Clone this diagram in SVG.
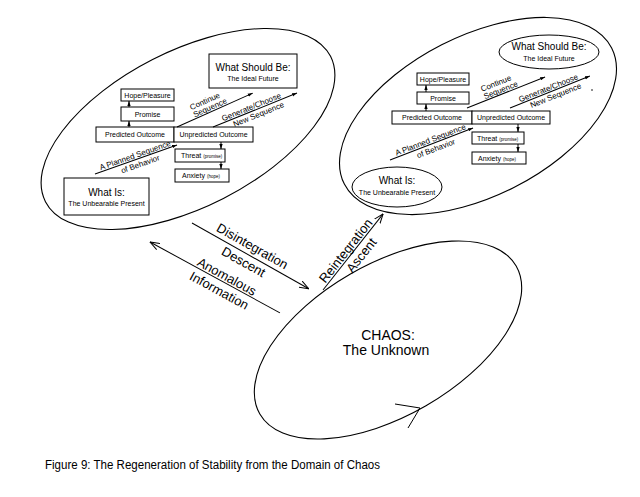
<svg xmlns="http://www.w3.org/2000/svg" width="640" height="497" viewBox="0 0 640 497">
<defs>
<style>
.t{font-family:"Liberation Sans",Arial,sans-serif;fill:#000}
.bx{fill:#fff;stroke:#000;stroke-width:1}
.ln{fill:none;stroke:#000;stroke-width:1}
.el{fill:none;stroke:#000;stroke-width:1.1}
.s7{font-size:7px}
.s45{font-size:4.5px}
.s8{font-size:8px}
.s10{font-size:10px}
.s13{font-size:13px}
.s14{font-size:14px}
</style>
<marker id="ah" viewBox="0 0 10 8" refX="9.5" refY="4" markerWidth="10" markerHeight="8" markerUnits="userSpaceOnUse" orient="auto"><path d="M0,0.5 L9.5,4 L0,7.5" fill="none" stroke="#000" stroke-width="1"/></marker>
<marker id="sa" viewBox="0 0 6 4" refX="6" refY="2" markerWidth="5" markerHeight="4" markerUnits="userSpaceOnUse" orient="auto"><path d="M0,0 L6,2 L0,4 Z" fill="#000"/></marker>
</defs>
<rect width="640" height="497" fill="#fff"/>

<!-- Left cluster: stability -->
<g id="left-domain">
<ellipse class="el" cx="188" cy="129" rx="160" ry="78" transform="rotate(-27 188 129)"/>
</g>
<g id="left-what-should-be">
<rect class="bx" x="209" y="54" width="88" height="34"/>
<text class="t s10" x="253" y="70.5" text-anchor="middle">What Should Be:</text>
<text class="t s7" x="253" y="80.5" text-anchor="middle">The Ideal Future</text>
</g>
<g id="left-hope">
<rect class="bx" x="121" y="89" width="53" height="12"/>
<text class="t s7" x="147.5" y="97.5" text-anchor="middle">Hope/Pleasure</text>
</g>
<g id="left-promise">
<rect class="bx" x="121" y="107" width="53" height="14"/>
<text class="t s7" x="147.5" y="116.5" text-anchor="middle">Promise</text>
</g>
<g id="left-predicted">
<rect class="bx" x="96" y="127" width="78" height="15"/>
<text class="t s7" x="135" y="137" text-anchor="middle">Predicted Outcome</text>
</g>
<g id="left-unpredicted">
<rect class="bx" x="174" y="127" width="79" height="15"/>
<text class="t s7" x="213.5" y="137" text-anchor="middle">Unpredicted Outcome</text>
</g>
<g id="left-threat">
<rect class="bx" x="175" y="149" width="50" height="13"/>
<text class="t s7" x="181" y="158">Threat <tspan class="s45">(promise)</tspan></text>
</g>
<g id="left-anxiety">
<rect class="bx" x="175" y="169" width="54" height="13"/>
<text class="t s7" x="182" y="178">Anxiety <tspan class="s45">(hope)</tspan></text>
</g>
<g id="left-what-is">
<rect class="bx" x="64" y="178" width="85" height="37"/>
<text class="t s10" x="106.5" y="196" text-anchor="middle">What Is:</text>
<text class="t s7" x="106.5" y="206" text-anchor="middle">The Unbearable Present</text>
</g>

<!-- Right cluster: restored stability -->
<g id="right-domain">
<ellipse class="el" cx="478" cy="116" rx="150" ry="80" transform="rotate(-27 478 116)"/>
<circle cx="592" cy="90" r="0.8" fill="#000"/>
</g>
<g id="right-what-should-be">
<ellipse class="bx" cx="549" cy="52" rx="50" ry="17"/>
<text class="t s10" x="549" y="50" text-anchor="middle">What Should Be:</text>
<text class="t s7" x="549" y="61" text-anchor="middle">The Ideal Future</text>
</g>
<g id="right-hope">
<rect class="bx" x="417" y="73" width="52" height="12"/>
<text class="t s7" x="443" y="81.5" text-anchor="middle">Hope/Pleasure</text>
</g>
<g id="right-promise">
<rect class="bx" x="417" y="92" width="52" height="12"/>
<text class="t s7" x="443" y="100.5" text-anchor="middle">Promise</text>
</g>
<g id="right-predicted">
<rect class="bx" x="392" y="111" width="80" height="13"/>
<text class="t s7" x="432" y="120" text-anchor="middle">Predicted Outcome</text>
</g>
<g id="right-unpredicted">
<rect class="bx" x="472" y="111" width="78" height="13"/>
<text class="t s7" x="511" y="120" text-anchor="middle">Unpredicted Outcome</text>
</g>
<g id="right-threat">
<rect class="bx" x="472" y="132" width="52" height="12"/>
<text class="t s7" x="477" y="140.5">Threat <tspan class="s45">(promise)</tspan></text>
</g>
<g id="right-anxiety">
<rect class="bx" x="472" y="152" width="54" height="12"/>
<text class="t s7" x="478" y="160.5">Anxiety <tspan class="s45">(hope)</tspan></text>
</g>
<g id="right-what-is">
<ellipse class="bx" cx="397" cy="187" rx="45" ry="20"/>
<text class="t s10" x="397" y="184" text-anchor="middle">What Is:</text>
<text class="t s7" x="397" y="195" text-anchor="middle">The Unbearable Present</text>
</g>

<!-- Chaos -->
<g id="chaos">
<ellipse class="el" cx="388" cy="340" rx="148" ry="76" transform="rotate(-30 388 340)"/>
<path class="ln" d="M395,404 L420,408 L408,428"/>
<text class="t s14" x="388" y="340" text-anchor="middle">CHAOS:</text>
<text class="t s14" x="386" y="355" text-anchor="middle">The Unknown</text>
</g>

<!-- Connectors -->
<g id="connectors">
<!-- left cluster -->
<line class="ln" x1="129" y1="127" x2="129" y2="121" marker-end="url(#sa)"/>
<line class="ln" x1="129" y1="107" x2="129" y2="101" marker-end="url(#sa)"/>
<line class="ln" x1="221" y1="142" x2="221" y2="149" marker-end="url(#sa)"/>
<line class="ln" x1="221" y1="162" x2="221" y2="169" marker-end="url(#sa)"/>
<g transform="translate(95,174) rotate(-19.5)">
<line class="ln" x1="0" y1="0" x2="87" y2="0" marker-end="url(#sa)"/>
<text class="t s8" x="44" y="-1.5" text-anchor="middle">A Planned Sequence</text>
<text class="t s8" x="46" y="8.5" text-anchor="middle">of Behavior</text>
</g>
<g transform="translate(177,127) rotate(-24.1)">
<line class="ln" x1="0" y1="0" x2="83" y2="0" marker-end="url(#sa)"/>
<text class="t s8" x="36" y="-9.5" text-anchor="middle">Continue</text>
<text class="t s8" x="38" y="-1.5" text-anchor="middle">Sequence</text>
</g>
<g transform="translate(213,127) rotate(-22)">
<line class="ln" x1="0" y1="0" x2="90.6" y2="0" marker-end="url(#sa)"/>
<text class="t s8" x="43" y="-1.5" text-anchor="middle">Generate/Choose</text>
<text class="t s8" x="47" y="8" text-anchor="middle">New Sequence</text>
</g>
<!-- right cluster -->
<line class="ln" x1="426" y1="111" x2="426" y2="104" marker-end="url(#sa)"/>
<line class="ln" x1="426" y1="92" x2="426" y2="85" marker-end="url(#sa)"/>
<line class="ln" x1="518" y1="124" x2="518" y2="132" marker-end="url(#sa)"/>
<line class="ln" x1="518" y1="144" x2="518" y2="152" marker-end="url(#sa)"/>
<g transform="translate(390,160) rotate(-21.1)">
<line class="ln" x1="0" y1="0" x2="89" y2="0" marker-end="url(#sa)"/>
<text class="t s8" x="45" y="-1.5" text-anchor="middle">A Planned Sequence</text>
<text class="t s8" x="47" y="8.5" text-anchor="middle">of Behavior</text>
</g>
<g transform="translate(467,108) rotate(-21.7)">
<line class="ln" x1="0" y1="0" x2="84" y2="0" marker-end="url(#sa)"/>
<text class="t s8" x="36" y="-9.5" text-anchor="middle">Continue</text>
<text class="t s8" x="38" y="-1.5" text-anchor="middle">Sequence</text>
</g>
<g transform="translate(510,108) rotate(-21.8)">
<line class="ln" x1="0" y1="0" x2="86" y2="0" marker-end="url(#sa)"/>
<text class="t s8" x="43" y="-1.5" text-anchor="middle">Generate/Choose</text>
<text class="t s8" x="47" y="8" text-anchor="middle">New Sequence</text>
</g>
<!-- main transitions -->
<g transform="translate(192,223) rotate(29.4)">
<line class="ln" x1="0" y1="0" x2="134" y2="0" marker-end="url(#ah)"/>
<text class="t s13" x="64" y="-5" text-anchor="middle">Disintegration</text>
<text class="t s13" x="64" y="13" text-anchor="middle">Descent</text>
</g>
<g transform="translate(150,242) rotate(28.6)">
<line class="ln" x1="148" y1="0" x2="0" y2="0" marker-end="url(#ah)"/>
<text class="t s13" x="84" y="-2" text-anchor="middle">Anomalous</text>
<text class="t s13" x="84" y="14" text-anchor="middle">Information</text>
</g>
<g transform="translate(323,290) rotate(-51.7)">
<line class="ln" x1="0" y1="0" x2="97" y2="0" marker-end="url(#ah)"/>
<text class="t s13" x="45" y="-2" text-anchor="middle">Reintegration</text>
<text class="t s13" x="51" y="13" text-anchor="middle">Ascent</text>
</g>
</g>

<text class="t" x="45" y="469" font-size="12" fill="#111" textLength="335" lengthAdjust="spacingAndGlyphs">Figure 9: The Regeneration of Stability from the Domain of Chaos</text>
</svg>
